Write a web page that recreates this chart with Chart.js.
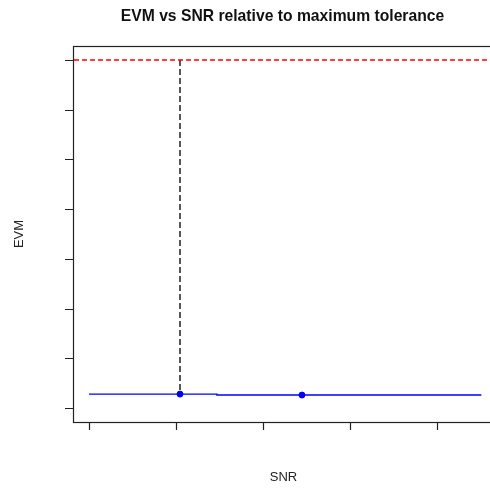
<!DOCTYPE html>
<html lang="en">
<head>
  <meta charset="UTF-8">
  <title>EVM vs SNR</title>
  <script src="https://cdn.jsdelivr.net/npm/chart.js"></script>
  <style>
    body {
      margin: 0;
      overflow: hidden;
      background: white;
    }
    canvas {
      display: block;
    }
  </style>
</head>
<body>
  <canvas id="grafico" width="500" height="489"></canvas>

  <script>
    // axis ticks (the original has no tick labels, only marks)
    const xTicks = [0, 1, 2, 3, 4];
    const yTicks = [0, 1, 2, 3, 4, 5, 6, 7];

    // EVM curve
    const evmX = [0, 1.47, 1.47, 4.51];
    const evmY = [0.28, 0.28, 0.26, 0.26];

    // measured points
    const pointX = [1.046, 2.448];
    const pointY = [0.28, 0.26];

    // maximum tolerance and the SNR where it is reached
    const tolerance = 7;
    const snrAtTolerance = 1.046;

    const ctx = document.getElementById("grafico").getContext("2d");

    const desenhoEixos = {
      id: "desenhoEixos",
      afterDraw(chart) {
        const c = chart.ctx;
        const a = chart.chartArea;
        const sx = chart.scales.x;
        const sy = chart.scales.y;
        c.save();
        c.strokeStyle = "#222";
        c.lineWidth = 1.2;
        // box
        c.strokeRect(Math.round(a.left) + 0.5, Math.round(a.top) + 0.5,
          Math.round(a.right - a.left), Math.round(a.bottom - a.top));
        // x tick marks
        c.beginPath();
        xTicks.forEach(t => {
          const px = Math.round(sx.getPixelForValue(t)) + 0.5;
          c.moveTo(px, a.bottom);
          c.lineTo(px, a.bottom + 8);
        });
        // y tick marks
        yTicks.forEach(t => {
          const py = Math.round(sy.getPixelForValue(t)) + 0.5;
          c.moveTo(a.left - 8, py);
          c.lineTo(a.left, py);
        });
        c.stroke();

        // title and axis titles
        c.fillStyle = "#111";
        c.textAlign = "center";
        c.textBaseline = "middle";
        const cx = (a.left + a.right) / 2;
        c.font = "bold 15.7px 'Liberation Sans', Arial, sans-serif";
        c.fillText("EVM vs SNR relative to maximum tolerance", cx, 17);
        c.fillStyle = "#222";
        c.font = "13px 'Liberation Sans', Arial, sans-serif";
        c.fillText("SNR", cx + 1, 477);
        c.translate(19, (a.top + a.bottom) / 2);
        c.rotate(-Math.PI / 2);
        c.fillText("EVM", 0, 0);
        c.restore();
      }
    };

    new Chart(ctx, {
      type: "scatter",
      data: {
        datasets: [
          {
            label: "tolerance",
            type: "line",
            data: [{ x: -1, y: tolerance }, { x: 6, y: tolerance }],
            borderColor: "#ff0000",
            borderWidth: 1.4,
            borderDash: [5, 3],
            pointRadius: 0
          },
          {
            label: "snr",
            type: "line",
            data: [{ x: snrAtTolerance, y: tolerance }, { x: snrAtTolerance, y: pointY[0] }],
            borderColor: "#111",
            borderWidth: 1.4,
            borderDash: [6, 3],
            pointRadius: 0
          },
          {
            label: "EVM",
            type: "line",
            data: evmX.map((x, i) => ({ x: x, y: evmY[i] })),
            borderColor: "#0000ff",
            borderWidth: 1.4,
            pointRadius: 0
          },
          {
            label: "pontos",
            data: pointX.map((x, i) => ({ x: x, y: pointY[i] })),
            backgroundColor: "#0000ff",
            borderColor: "#0000ff",
            pointRadius: 3
          }
        ]
      },
      options: {
        responsive: false,
        animation: false,
        layout: {
          padding: { left: 73, top: 46, right: 8, bottom: 67 }
        },
        plugins: {
          legend: { display: false },
          tooltip: { enabled: false }
        },
        scales: {
          x: {
            type: "linear",
            display: false,
            min: (73 - 89) / 87,
            max: (492 - 89) / 87
          },
          y: {
            type: "linear",
            display: false,
            min: (408 - 422) / 49.714,
            max: (408 - 46) / 49.714
          }
        }
      },
      plugins: [desenhoEixos]
    });
  </script>
</body>
</html>
